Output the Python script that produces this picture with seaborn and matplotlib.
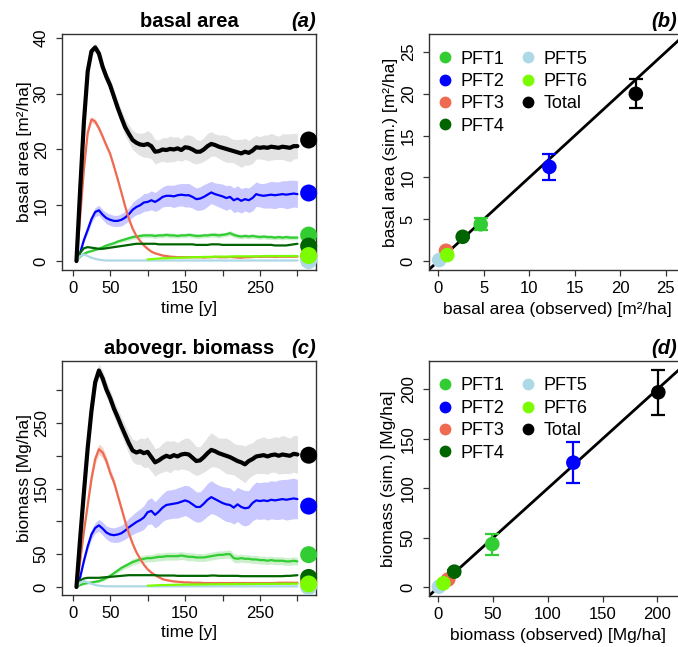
import pandas as pd
import seaborn as sns
import matplotlib.pyplot as plt
from matplotlib.lines import Line2D

# ---------------- data ----------------
years = list(range(5, 301, 5))
years_pft6 = years[19:]      # PFT6 only appears from year 100
obs_year = 315               # observed values are drawn right of the series

pft_names = ['PFT1', 'PFT2', 'PFT3', 'PFT4', 'PFT5', 'PFT6', 'Total']
pft_colors = ['#32CD32', '#0000FF', '#EE6A50', '#006400', '#ADD8E6', '#7CFC00', '#000000']
band_colors = {'Total': '#E3E3E3', 'PFT2': '#C9C9FF', 'PFT1': '#CCEFCC', 'PFT3': '#F9D3CB'}

# basal area [m2/ha], simulated mean
ba_total = [0.0, 13.0, 25.0, 34.0, 37.6, 38.3, 37.2, 34.8, 33.0, 31.5,
            29.5, 27.5, 25.7, 24.0, 22.8, 21.7, 21.2, 20.9, 20.8, 21.0,
            20.6, 19.6, 19.7, 20.0, 19.9, 20.1, 20.0, 20.2, 19.9, 20.4,
            20.3, 20.0, 19.6, 19.6, 20.0, 20.6, 21.0, 20.8, 20.5, 20.3,
            20.1, 19.9, 19.7, 19.5, 19.3, 19.6, 19.4, 19.8, 20.4, 20.3,
            20.4, 20.3, 20.5, 20.4, 20.3, 20.5, 20.4, 20.3, 20.6, 20.6]
ba_pft1 = [0.0, 0.8, 1.3, 1.6, 1.8, 2.0, 2.2, 2.5, 2.8, 3.0,
           3.2, 3.5, 3.7, 3.9, 4.1, 4.3, 4.4, 4.5, 4.6, 4.6,
           4.6, 4.5, 4.6, 4.6, 4.7, 4.6, 4.6, 4.5, 4.6, 4.6,
           4.7, 4.6, 4.5, 4.5, 4.6, 4.6, 4.7, 4.7, 4.6, 4.7,
           4.8, 5.0, 4.7, 4.5, 4.4, 4.5, 4.4, 4.5, 4.4, 4.3,
           4.4, 4.3, 4.3, 4.2, 4.3, 4.2, 4.3, 4.2, 4.2, 4.2]
ba_pft2 = [0.0, 1.5, 3.8, 5.6, 7.5, 8.8, 9.1, 8.3, 7.7, 7.4,
           7.2, 7.2, 7.4, 7.8, 8.4, 9.2, 9.7, 10.0, 10.5, 10.6,
           10.9, 10.6, 11.0, 11.5, 11.7, 11.7, 11.6, 11.8, 11.9, 11.8,
           11.8, 11.5, 11.1, 11.2, 11.5, 11.9, 12.3, 12.0, 11.8, 11.6,
           11.3, 11.5, 10.9, 11.2, 10.8, 11.1, 10.9, 11.3, 12.0, 11.8,
           11.7, 11.8, 11.9, 11.8, 11.9, 12.0, 11.9, 12.0, 12.1, 12.0]
ba_pft3 = [0.0, 8.0, 16.5, 23.0, 25.4, 25.0, 23.8, 22.3, 20.7, 19.2,
           17.0, 14.7, 12.3, 9.8, 7.6, 5.8, 4.5, 3.6, 2.8, 2.2,
           1.7, 1.4, 1.2, 1.0, 0.9, 0.8, 0.75, 0.7, 0.7, 0.7,
           0.7, 0.7, 0.7, 0.7, 0.65, 0.7, 0.7, 0.75, 0.7, 0.7,
           0.7, 0.75, 0.7, 0.65, 0.6, 0.7, 0.7, 0.75, 0.8, 0.75,
           0.8, 0.8, 0.8, 0.75, 0.8, 0.8, 0.8, 0.8, 0.8, 0.8]
ba_pft4 = [0.0, 1.5, 2.3, 2.5, 2.4, 2.3, 2.2, 2.2, 2.3, 2.4,
           2.5, 2.6, 2.7, 2.8, 2.9, 3.0, 3.1, 3.1, 3.1, 3.1,
           3.1, 3.1, 3.0, 3.0, 3.0, 3.0, 3.0, 3.0, 3.0, 3.0,
           3.0, 3.0, 2.9, 2.9, 2.9, 2.9, 3.0, 3.0, 3.0, 2.9,
           2.9, 2.9, 2.9, 2.9, 2.9, 2.9, 2.9, 2.9, 2.9, 2.9,
           2.9, 2.9, 2.9, 2.8, 2.8, 2.8, 2.8, 2.9, 3.0, 3.1]
ba_pft5 = [0.0, 0.9, 1.2, 0.9, 0.6, 0.4, 0.25, 0.15, 0.1, 0.1,
           0.1, 0.1, 0.1, 0.1, 0.1, 0.1, 0.1, 0.1, 0.1, 0.1,
           0.1, 0.1, 0.1, 0.1, 0.1, 0.1, 0.1, 0.1, 0.1, 0.1,
           0.1, 0.1, 0.1, 0.1, 0.1, 0.1, 0.1, 0.1, 0.1, 0.1,
           0.1, 0.1, 0.1, 0.1, 0.1, 0.1, 0.1, 0.1, 0.1, 0.1,
           0.1, 0.1, 0.1, 0.1, 0.1, 0.1, 0.1, 0.1, 0.1, 0.1]
ba_pft6 = [0.3, 0.35, 0.4, 0.45, 0.5, 0.5, 0.55, 0.55, 0.6, 0.6,
           0.65, 0.65, 0.7, 0.7, 0.7, 0.75, 0.75, 0.75, 0.8, 0.8,
           0.8, 0.8, 0.8, 0.85, 0.85, 0.85, 0.85, 0.85, 0.85, 0.85,
           0.85, 0.9, 0.9, 0.9, 0.9, 0.9, 0.9, 0.9, 0.9, 0.9,
           0.9]

# basal area: half width of the shaded bands
ba_total_sd = [0.0, 0.3, 0.5, 0.6, 0.7, 0.8, 0.8, 0.9, 1.0, 1.1,
               1.2, 1.3, 1.4, 1.5, 1.6, 1.7, 1.8, 2.0, 2.2, 2.4,
               2.3, 2.2, 2.0, 2.1, 2.2, 2.3, 2.2, 2.1, 2.0, 2.2,
               2.3, 2.4, 2.2, 2.0, 2.1, 2.3, 2.2, 2.0, 2.1, 2.3,
               2.4, 2.2, 2.1, 2.3, 2.5, 2.4, 2.2, 2.3, 2.1, 2.0,
               2.2, 2.3, 2.4, 2.2, 2.1, 2.3, 2.4, 2.5, 2.3, 2.2]
ba_pft2_sd = [0.0, 0.2, 0.4, 0.6, 0.7, 0.8, 0.9, 0.9, 1.0, 1.0,
              1.0, 1.0, 1.1, 1.1, 1.2, 1.3, 1.4, 1.5, 1.6, 1.6,
              1.7, 1.7, 1.8, 1.8, 1.9, 1.9, 2.0, 2.0, 2.0, 2.1,
              2.1, 2.0, 2.0, 2.1, 2.2, 2.1, 2.0, 2.0, 2.1, 2.2,
              2.2, 2.1, 2.2, 2.3, 2.2, 2.1, 2.2, 2.3, 2.2, 2.1,
              2.2, 2.3, 2.4, 2.4, 2.3, 2.4, 2.5, 2.5, 2.4, 2.4]
ba_pft1_sd = [0.0, 0.1, 0.1, 0.15, 0.15, 0.2, 0.2, 0.2, 0.25, 0.25,
              0.3, 0.3, 0.3, 0.35, 0.35, 0.4, 0.4, 0.4, 0.4, 0.4,
              0.4, 0.45, 0.4, 0.4, 0.4, 0.45, 0.4, 0.4, 0.4, 0.4,
              0.4, 0.4, 0.45, 0.4, 0.4, 0.4, 0.4, 0.45, 0.45, 0.4,
              0.4, 0.45, 0.45, 0.4, 0.4, 0.4, 0.4, 0.4, 0.4, 0.4,
              0.4, 0.4, 0.4, 0.4, 0.4, 0.4, 0.4, 0.4, 0.4, 0.4]
ba_pft3_sd = [0.0, 0.3, 0.4, 0.5, 0.5, 0.5, 0.5, 0.5, 0.5, 0.5,
              0.5, 0.45, 0.4, 0.4, 0.35, 0.3, 0.3, 0.25, 0.2, 0.2,
              0.2, 0.15, 0.15, 0.15, 0.15, 0.15, 0.15, 0.15, 0.15, 0.15,
              0.15, 0.15, 0.15, 0.15, 0.15, 0.15, 0.15, 0.15, 0.15, 0.15,
              0.15, 0.15, 0.15, 0.15, 0.15, 0.15, 0.15, 0.15, 0.15, 0.15,
              0.15, 0.15, 0.15, 0.15, 0.15, 0.15, 0.15, 0.15, 0.15, 0.15]

# aboveground biomass [Mg/ha], simulated mean
bm_total = [0, 75, 145, 212, 268, 312, 330, 318, 301, 288,
            272, 259, 245, 232, 219, 208, 205, 207, 204, 206,
            198, 190, 193, 197, 200, 198, 201, 199, 202, 203,
            202, 197, 192, 193, 198, 204, 209, 207, 204, 202,
            200, 198, 195, 192, 190, 187, 192, 195, 199, 200,
            201, 199, 201, 202, 200, 202, 201, 200, 203, 202]
bm_pft1 = [0, 3, 5, 6, 7, 8, 9, 11, 14, 17,
           21, 25, 29, 32, 35, 38, 40, 42, 43, 44,
           44, 45, 46, 46, 47, 47, 47, 47, 48, 47,
           46, 46, 45, 45, 45, 46, 47, 48, 49, 49,
           50, 50, 44, 43, 44, 43, 43, 42, 42, 41,
           41, 40, 41, 40, 40, 40, 39, 39, 40, 39]
bm_pft2 = [0, 15, 40, 62, 80, 90, 94, 89, 83, 80,
           79, 80, 82, 86, 91, 95, 99, 102, 106, 114,
           116, 110, 115, 121, 125, 126, 127, 128, 130, 132,
           130, 126, 122, 122, 127, 133, 137, 134, 131, 128,
           126, 125, 121, 126, 122, 120, 121, 128, 132, 131,
           132, 131, 133, 132, 133, 134, 133, 134, 135, 134]
bm_pft3 = [0, 40, 85, 125, 165, 195, 210, 205, 192, 174,
           160, 140, 120, 100, 82, 66, 53, 43, 34, 27,
           22, 18, 15, 12, 10.5, 9.5, 8.5, 8, 7.5, 7,
           7, 6.5, 6.5, 6.5, 6, 6, 6, 6, 6, 6,
           6, 6, 6, 6, 6, 6, 6, 6, 6, 6,
           6, 6, 6, 6, 6.5, 6.5, 6.5, 6.5, 6.5, 6.5]
bm_pft4 = [0, 10, 13, 14, 14, 14, 14, 14.5, 15, 15.5,
           16, 16.5, 17, 17.5, 18, 18, 18, 18, 18, 18,
           18, 18, 17.5, 17.5, 17.5, 17.5, 17.5, 17, 17, 17,
           17, 17, 17, 17, 17, 17, 17.5, 17.5, 17, 17,
           17, 17, 17, 17, 16.5, 16.5, 16.5, 16.5, 16.5, 16.5,
           16.5, 16.5, 16.5, 16.5, 16.5, 16.5, 17, 17, 17.5, 18]
bm_pft5 = [0, 7, 9, 7, 5, 3, 2, 1.5, 1, 1,
           1, 1, 1, 1, 1, 1, 1, 1, 1, 1,
           1, 1, 1, 1, 1, 1, 1, 1, 1, 1,
           1, 1, 1, 1, 1, 1, 1, 1, 1, 1,
           1, 1, 1, 1, 1, 1, 1, 1, 1, 1,
           1, 1, 1, 1, 1, 1, 1, 1, 1, 1]
bm_pft6 = [2.0, 2.2, 2.5, 2.7, 3.0, 3.0, 3.2, 3.3, 3.5, 3.5,
           3.6, 3.7, 3.8, 3.8, 3.9, 4.0, 4.0, 4.1, 4.2, 4.2,
           4.3, 4.3, 4.4, 4.4, 4.5, 4.5, 4.5, 4.6, 4.6, 4.6,
           4.7, 4.7, 4.7, 4.8, 4.8, 4.8, 4.9, 4.9, 4.9, 5.0,
           5.0]

# biomass: half width of the shaded bands
bm_total_sd = [0, 3, 5, 6, 8, 10, 11, 12, 12, 12,
               13, 13, 14, 15, 16, 17, 18, 20, 22, 23,
               22, 21, 20, 22, 23, 24, 22, 21, 22, 24,
               25, 24, 22, 21, 23, 25, 26, 24, 23, 25,
               27, 26, 24, 25, 27, 28, 26, 25, 26, 27,
               28, 27, 26, 27, 28, 29, 28, 27, 28, 29]
bm_pft2_sd = [0, 2, 4, 6, 7, 8, 9, 10, 10, 11,
              11, 12, 12, 13, 14, 15, 16, 17, 18, 19,
              20, 20, 21, 21, 22, 22, 22, 23, 23, 23,
              24, 24, 23, 23, 24, 25, 25, 24, 24, 25,
              26, 26, 25, 26, 27, 27, 26, 27, 28, 28,
              28, 29, 29, 29, 30, 30, 31, 31, 31, 30]
bm_pft1_sd = [0, 1, 1, 1.5, 1.5, 2, 2, 2, 2.5, 2.5,
              3, 3.5, 4, 4, 4.5, 5, 5, 5, 5.5, 5.5,
              5.5, 6, 6, 6, 6, 6, 6, 6, 6, 6,
              6, 6, 6, 6, 6, 6, 6, 6, 6, 6,
              6, 6.5, 6.5, 6.5, 6, 6, 6, 6, 6, 6,
              6, 6, 6, 6, 6, 6, 6, 6, 6, 6]
bm_pft3_sd = [0, 3, 5, 7, 8, 8, 8, 8, 7, 7,
              6, 6, 5, 5, 4, 4, 3, 3, 2.5, 2,
              2, 1.5, 1.5, 1.5, 1, 1, 1, 1, 1, 1,
              1, 1, 1, 1, 1, 1, 1, 1, 1, 1,
              1, 1, 1, 1, 1, 1, 1, 1, 1, 1,
              1, 1, 1, 1, 1, 1, 1, 1, 1, 1]

# observed vs simulated (PFT1..PFT6, Total)
ba_obs = [4.66, 12.2, 0.85, 2.68, 0.1, 0.99, 21.7]
ba_sim = [4.4, 11.26, 1.23, 2.9, 0.12, 0.72, 20.0]
ba_err = [0.7, 1.6, 0.2, 0.2, 0.05, 0.1, 1.75]
bm_obs = [49.3, 123.3, 9.1, 14.6, 0.6, 4.6, 200.9]
bm_sim = [43.7, 125.9, 8.0, 15.8, 0.6, 4.0, 197.0]
bm_err = [10.6, 20.7, 2.0, 2.0, 0.5, 1.0, 22.7]

ba = pd.DataFrame({'year': years, 'Total': ba_total, 'PFT1': ba_pft1, 'PFT2': ba_pft2,
                   'PFT3': ba_pft3, 'PFT4': ba_pft4, 'PFT5': ba_pft5})
ba_sd = pd.DataFrame({'Total': ba_total_sd, 'PFT2': ba_pft2_sd,
                      'PFT1': ba_pft1_sd, 'PFT3': ba_pft3_sd})
bm = pd.DataFrame({'year': years, 'Total': bm_total, 'PFT1': bm_pft1, 'PFT2': bm_pft2,
                   'PFT3': bm_pft3, 'PFT4': bm_pft4, 'PFT5': bm_pft5})
bm_sd = pd.DataFrame({'Total': bm_total_sd, 'PFT2': bm_pft2_sd,
                      'PFT1': bm_pft1_sd, 'PFT3': bm_pft3_sd})

color_of = dict(zip(pft_names, pft_colors))

# ---------------- style ----------------
sns.set_theme(style='ticks')
plt.rcParams['font.family'] = ['Liberation Sans', 'DejaVu Sans']
plt.rcParams['text.color'] = 'black'
plt.rcParams['axes.labelcolor'] = 'black'
plt.rcParams['axes.titlecolor'] = 'black'

W, H = 678, 647
fig = plt.figure(figsize=(W / 100, H / 100), dpi=100)
fig.patch.set_facecolor('white')


def px_axes(left, top, right, bottom):
    """add axes from pixel box (may run past the right edge of the figure)"""
    return fig.add_axes([left / W, (H - bottom) / H, (right - left) / W, (bottom - top) / H])


def draw_series(ax, df, sd, pft6):
    for name in ['Total', 'PFT2', 'PFT1', 'PFT3']:
        ax.fill_between(df['year'], df[name] - sd[name], df[name] + sd[name],
                        color=band_colors[name], lw=0, zorder=1)
    for name in ['PFT1', 'PFT2', 'PFT3', 'PFT4', 'PFT5']:
        sns.lineplot(data=df, x='year', y=name, color=color_of[name], lw=1.6,
                     estimator=None, ax=ax, zorder=3)
    sns.lineplot(x=years_pft6, y=pft6, color=color_of['PFT6'], lw=1.6,
                 estimator=None, ax=ax, zorder=3)
    sns.lineplot(data=df, x='year', y='Total', color='black', lw=3.0,
                 estimator=None, ax=ax, zorder=4)


def draw_obs_sim(ax, obs, sim, err, lim):
    ax.plot(lim, lim, color='black', lw=2.0, zorder=2)
    for o, s, e, c in zip(obs, sim, err, pft_colors):
        ax.errorbar(o, s, yerr=e, fmt='none', ecolor=c, elinewidth=1.6,
                    capsize=4.7, capthick=1.6, zorder=3)
    sns.scatterplot(x=obs, y=sim, hue=pft_names, palette=pft_colors, s=110,
                    linewidth=0, legend=False, ax=ax, zorder=4)
    handles = [Line2D([], [], ls='none', marker='o', ms=8.5, color=c, mew=0)
               for c in pft_colors]
    ax.legend(handles, pft_names, ncols=2, frameon=False, loc='upper left',
              bbox_to_anchor=(0.035, 0.93), fontsize=13, borderpad=0,
              handlelength=0.8, handletextpad=0.45, columnspacing=0.9,
              labelspacing=0.3, borderaxespad=0)


def style(ax, xlim, ylim, xticks, xlabels, yticks, ylabels,
          xlabel, ylabel, title, xlab_y, ylab_x):
    ax.set_xlim(xlim)
    ax.set_ylim(ylim)
    ax.set_xticks(xticks, xlabels)
    ax.set_yticks(yticks, ylabels)
    ax.tick_params(axis='both', direction='out', length=4.5, width=0.9,
                   labelsize=12, color='#333333', labelcolor='black')
    ax.tick_params(axis='x', pad=3.5)
    ax.tick_params(axis='y', pad=5, labelrotation=90)
    plt.setp(ax.get_yticklabels(), va='center')
    ax.set_xlabel(xlabel, fontsize=12.5)
    ax.set_ylabel(ylabel, fontsize=12.5)
    ax.xaxis.set_label_coords(0.5, xlab_y)
    ax.yaxis.set_label_coords(ylab_x, 0.5)
    for sp in ax.spines.values():
        sp.set_visible(True)
        sp.set_color('#333333')
        sp.set_linewidth(1.0)
    if title:
        ax.set_title(title, fontsize=14.5, fontweight='bold', pad=5)


def panel_tag(text, x_px, baseline_px):
    fig.text(x_px / W, (H - baseline_px) / H, text, ha='right', va='baseline',
             fontsize=14.5, fontweight='bold', fontstyle='italic')


t_ticks = [0, 50, 100, 150, 200, 250, 300]
t_labels = ['0', '50', '', '150', '', '250', '']

# (a) basal area over time
ax_a = px_axes(62, 34, 316, 270)
draw_series(ax_a, ba, ba_sd, ba_pft6)
sns.scatterplot(x=[obs_year] * 7, y=ba_obs, hue=pft_names, palette=pft_colors,
                s=150, linewidth=0, legend=False, ax=ax_a, zorder=5, clip_on=False)
style(ax_a, (-14.3, 324.8), (-1.6, 40.7), t_ticks, t_labels,
      [0, 10, 20, 30, 40], ['0', '10', '20', '30', '40'],
      'time [y]', 'basal area [m²/ha]', 'basal area', -0.13, -0.119)
panel_tag('(a)', 316, 27)

# (b) basal area observed vs simulated
ax_b = px_axes(429, 34, 685, 270)
draw_obs_sim(ax_b, ba_obs, ba_sim, ba_err, [-2, 30])
style(ax_b, (-1.02, 27.1), (-1.07, 27.15), [0, 5, 10, 15, 20, 25],
      ['0', '5', '10', '15', '20', '25'], [0, 5, 10, 15, 20, 25],
      ['0', '5', '10', '15', '20', '25'],
      'basal area (observed) [m²/ha]', 'basal area (sim.) [m²/ha]',
      None, -0.134, -0.12)
panel_tag('(b)', 677, 27)

# (c) biomass over time
ax_c = px_axes(62, 361, 316, 595)
draw_series(ax_c, bm, bm_sd, bm_pft6)
sns.scatterplot(x=[obs_year] * 7, y=bm_obs, hue=pft_names, palette=pft_colors,
                s=150, linewidth=0, legend=False, ax=ax_c, zorder=5, clip_on=False)
style(ax_c, (-14.3, 324.8), (-12.2, 344.5), t_ticks, t_labels,
      [0, 50, 100, 150, 200, 250, 300], ['0', '50', '', '150', '', '250', ''],
      'time [y]', 'biomass [Mg/ha]', 'abovegr. biomass', -0.128, -0.119)
panel_tag('(c)', 316, 354)

# (d) biomass observed vs simulated
ax_d = px_axes(429, 361, 688, 596)
draw_obs_sim(ax_d, bm_obs, bm_sim, bm_err, [-20, 250])
style(ax_d, (-8.5, 228.0), (-8.8, 228.6), [0, 50, 100, 150, 200],
      ['0', '50', '100', '150', '200'], [0, 50, 100, 150, 200],
      ['0', '50', '100', '150', '200'],
      'biomass (observed) [Mg/ha]', 'biomass (sim.) [Mg/ha]',
      None, -0.137, -0.126)
panel_tag('(d)', 677, 354)

fig.savefig('out.png', dpi=100)
